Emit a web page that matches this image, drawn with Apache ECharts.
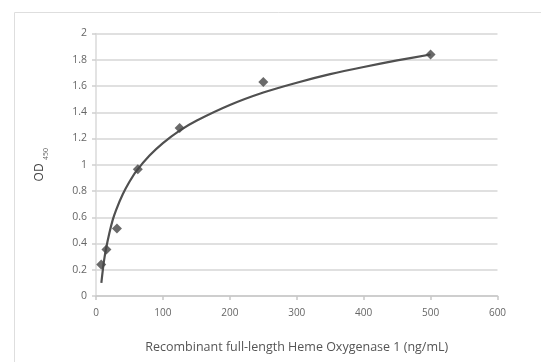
<!DOCTYPE html>
<html><head><meta charset="utf-8">
<script src="https://cdn.jsdelivr.net/npm/echarts@6/dist/echarts.min.js"></script>
<style>html,body{margin:0;padding:0;background:#fff}#c{width:541px;height:362px}</style>
</head><body><div id="c"></div>
<script>
// Measured points: concentration (ng/mL) and OD450
var concentrations = [7.8, 15.6, 31.25, 62.5, 125, 250, 500];
var odValues = [0.24, 0.355, 0.515, 0.965, 1.28, 1.63, 1.84];
// Trend curve
var curveX = [8, 10, 12, 15, 20, 25, 30, 40, 50, 60, 80, 100, 125, 150, 200, 250, 300, 350, 400, 450, 500];
var curveY = [0.10, 0.19, 0.27, 0.36, 0.48, 0.58, 0.655, 0.775, 0.87, 0.95, 1.07, 1.165, 1.26, 1.335, 1.455, 1.55, 1.625, 1.69, 1.745, 1.795, 1.84];
var yTicks = [0, 0.2, 0.4, 0.6, 0.8, 1, 1.2, 1.4, 1.6, 1.8, 2];
var xTitle = 'Recombinant full-length Heme Oxygenase 1 (ng/mL)';

var chart = echarts.init(document.getElementById('c'));
var font = '"Open Sans", "Liberation Sans", sans-serif';
chart.setOption({
  animation: false,
  backgroundColor: '#fff',
  graphic: [{
    type: 'rect', shape: {x: 14.5, y: 12.5, width: 600, height: 400},
    style: {fill: 'none', stroke: '#dedede', lineWidth: 1}, silent: true, z: -1
  }],
  grid: {left: 96, right: 43.5, top: 33.5, bottom: 66},
  xAxis: {
    type: 'value', min: 0, max: 600, interval: 100,
    name: xTitle, nameLocation: 'middle', nameGap: 45,
    nameTextStyle: {color: '#555', fontSize: 12.5, fontFamily: font},
    axisLine: {show: true, lineStyle: {color: '#c8c8c8', width: 1.5}},
    axisTick: {show: true, length: 4, lineStyle: {color: '#c8c8c8', width: 1.5}},
    axisLabel: {color: '#666', fontSize: 10, fontFamily: font, margin: 12},
    splitLine: {show: false}
  },
  yAxis: {
    type: 'value', min: 0, max: 2, interval: 0.2,
    name: '{a|OD} {b|450}', nameLocation: 'middle', nameGap: 50, nameRotate: 90,
    nameTextStyle: {rich: {
      a: {color: '#444', fontSize: 12, fontFamily: font, lineHeight: 16, verticalAlign: 'bottom'},
      b: {color: '#666', fontSize: 7, fontFamily: font, lineHeight: 9, verticalAlign: 'bottom', padding: [0, 0, -3, 0]}
    }},
    axisLine: {show: true, lineStyle: {color: '#dadada', width: 1.5}},
    axisTick: {show: true, length: 4, lineStyle: {color: '#d0d0d0', width: 1.5}},
    axisLabel: {color: '#666', fontSize: 10.5, fontFamily: font, margin: 9,
      formatter: function (v) { return yTicks.indexOf(Math.round(v * 10) / 10) >= 0 ? String(Math.round(v * 10) / 10) : ''; }},
    splitLine: {show: true, lineStyle: {color: '#d6d6d6', width: 1.5}}
  },
  series: [{
    type: 'line', data: curveX.map(function (x, i) { return [x, curveY[i]]; }),
    smooth: 0.3, showSymbol: false, symbol: 'none',
    lineStyle: {color: '#505050', width: 2.2}, z: 2
  }, {
    type: 'scatter', data: concentrations.map(function (x, i) { return [x, odValues[i]]; }),
    symbol: 'diamond', symbolSize: 10,
    itemStyle: {color: '#454545'}, z: 3
  }]
});
</script></body></html>
